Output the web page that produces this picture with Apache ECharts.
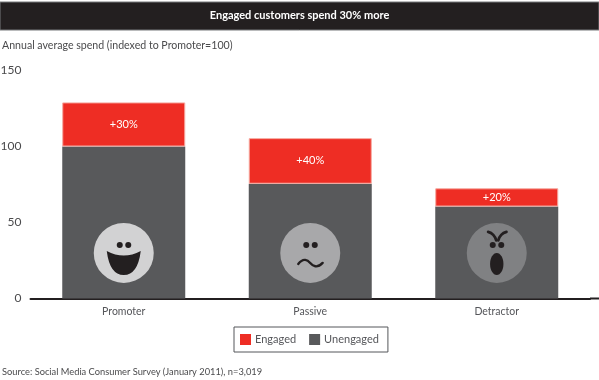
<!DOCTYPE html>
<html>
<head>
<meta charset="utf-8">
<style>
  html, body { margin: 0; padding: 0; background: #fff; }
  #myChart { width: 599px; height: 380px; }
</style>
</head>
<body>
<div id="myChart"></div>
<script src="https://cdn.jsdelivr.net/npm/echarts@6/dist/echarts.min.js"></script>
<script>
  var categories = ['Promoter', 'Passive', 'Detractor']
  var unengaged = [100, 75.5, 60.5]
  var engaged = [29, 30, 12]
  var upliftLabels = ['+30%', '+40%', '+20%']
  var yTicks = [0, 50, 100, 150]
  var faceLevel = [30, 30, 30] // 笑脸圆心的高度
  var faceKinds = ['happy', 'flat', 'angry']
  var faceColors = ['#d2d2d3', '#a8a8aa', '#808183']

  var fontName = 'Lato'
  var dark = '#231f20'

  // 三种表情，坐标相对圆心
  function drawFace(kind, x, y, color) {
    var ink = { fill: dark }
    var pen = { fill: 'none', stroke: dark, lineWidth: 2.4, lineCap: 'round' }
    var parts = [
      { type: 'circle', shape: { cx: 0, cy: 0, r: 30 }, style: { fill: color } },
      { type: 'circle', shape: { cx: -4, cy: -8, r: 3 }, style: ink },
      { type: 'circle', shape: { cx: 4.5, cy: -8, r: 3 }, style: ink }
    ]
    if (kind === 'happy') {
      parts.push({
        type: 'path',
        shape: { pathData: 'M0 0 Q17 9 34 0 Q31 24 17 24 Q3 24 0 0Z', x: -17, y: -2, width: 34, height: 24, layout: 'cover' },
        style: ink
      })
    } else if (kind === 'flat') {
      parts.push({
        type: 'polyline',
        shape: { points: [[-12, 11], [-5, 7], [5, 13.4], [12.4, 10]], smooth: 0.5 },
        style: pen
      })
    } else {
      pen.lineWidth = 2.8
      parts.push({ type: 'polyline', shape: { points: [[-8.6, -21], [-3.5, -18], [-0.5, -12.5]], smooth: 0.5 }, style: pen })
      parts.push({ type: 'polyline', shape: { points: [[9.7, -21], [4.5, -18], [1.5, -12.5]], smooth: 0.5 }, style: pen })
      parts.push({ type: 'ellipse', shape: { cx: 0, cy: 11, rx: 6.7, ry: 11 }, style: ink })
    }
    return { type: 'group', x: x, y: y, children: parts }
  }

  var myChart = echarts.init(document.getElementById('myChart'))

  var option = {
    backgroundColor: '#fff',
    animation: false,
    textStyle: { fontFamily: fontName },
    graphic: [
      { type: 'rect', z: 0, shape: { x: 0, y: 2, width: 599, height: 28 }, style: { fill: dark, stroke: '#77787a', lineWidth: 1 } },
      { type: 'rect', z: 0, shape: { x: 590, y: 297.5, width: 9, height: 2 }, style: { fill: dark } }
    ],
    title: [
      {
        text: 'Engaged customers spend 30% more',
        left: 'center',
        top: 8,
        padding: 0,
        z: 5,
        textStyle: { color: '#fff', fontFamily: fontName, fontSize: 11, fontWeight: 'bold', lineHeight: 15 }
      },
      {
        text: 'Annual average spend (indexed to Promoter=100)',
        left: 2,
        top: 39,
        padding: 0,
        textStyle: { color: '#4a4a4c', fontFamily: fontName, fontSize: 10.6, fontWeight: 'normal', lineHeight: 14 }
      },
      {
        text: 'Source: Social Media Consumer Survey (January 2011), n=3,019',
        left: 2,
        top: 365,
        padding: 0,
        textStyle: { color: '#4a4a4c', fontFamily: fontName, fontSize: 9.3, fontWeight: 'normal', lineHeight: 13 }
      }
    ],
    legend: {
      data: ['Engaged', 'Unengaged'],
      left: 234,
      top: 327,
      orient: 'horizontal',
      icon: 'rect',
      itemWidth: 11,
      itemHeight: 11,
      itemGap: 13,
      padding: [7, 9, 7, 6],
      borderColor: '#55565a',
      borderWidth: 1,
      selectedMode: false,
      itemStyle: { borderWidth: 0 },
      textStyle: { color: '#55565a', fontFamily: fontName, fontSize: 11, padding: [0, 0, 0, -1] }
    },
    grid: {
      left: 30.5,
      top: 70.5,
      width: 559.5,
      height: 228,
      outerBoundsMode: 'none'
    },
    xAxis: {
      type: 'category',
      data: categories,
      axisLine: { show: true, lineStyle: { color: dark, width: 2 } },
      axisTick: { show: false },
      axisLabel: { color: '#55565a', fontFamily: fontName, fontSize: 10.5, margin: 8 }
    },
    yAxis: {
      type: 'value',
      min: yTicks[0],
      max: yTicks[yTicks.length - 1],
      interval: yTicks[1] - yTicks[0],
      axisLine: { show: false },
      axisTick: { show: false },
      splitLine: { show: false },
      axisLabel: { color: '#4a4a4c', fontFamily: fontName, fontSize: 12, margin: 9 }
    },
    series: [
      {
        name: 'Unengaged',
        type: 'bar',
        stack: 'spend',
        barWidth: 123,
        itemStyle: { color: '#58595b' },
        data: unengaged
      },
      {
        name: 'Engaged',
        type: 'bar',
        stack: 'spend',
        barWidth: 123,
        itemStyle: { color: '#ee2d24', borderColor: '#f6a89f', borderWidth: 1 },
        label: {
          show: true,
          position: 'inside',
          color: '#fff',
          fontFamily: fontName,
          fontSize: 11,
          formatter: function (p) { return upliftLabels[p.dataIndex] }
        },
        data: engaged
      },
      {
        name: 'Faces',
        type: 'custom',
        silent: true,
        z: 5,
        data: faceLevel.map(function (v, i) { return [i, v] }),
        renderItem: function (params, api) {
          var p = api.coord([api.value(0), api.value(1)])
          var i = params.dataIndex
          return drawFace(faceKinds[i], p[0], p[1], faceColors[i])
        }
      }
    ]
  }

  myChart.setOption(option)
</script>
</body>
</html>
